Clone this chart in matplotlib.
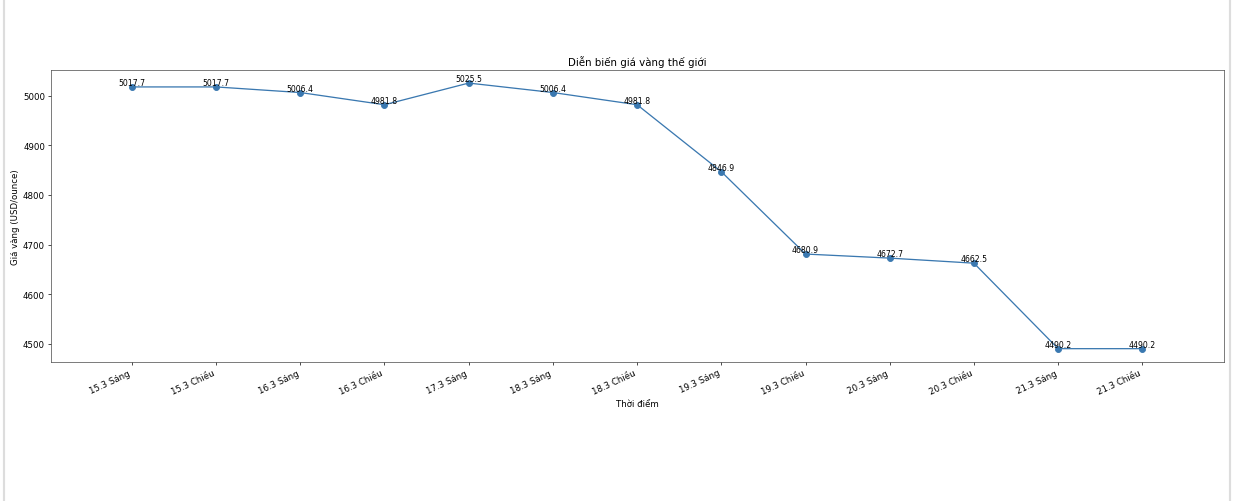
import matplotlib

matplotlib.use("Agg")
import matplotlib.pyplot as plt
from matplotlib.lines import Line2D

# dữ liệu giá vàng thế giới (USD/ounce)
thoi_diem = [
    "15.3 Sáng", "15.3 Chiều", "16.3 Sáng", "16.3 Chiều", "17.3 Sáng",
    "18.3 Sáng", "18.3 Chiều", "19.3 Sáng", "19.3 Chiều", "20.3 Sáng",
    "20.3 Chiều", "21.3 Sáng", "21.3 Chiều",
]
gia_vang = [
    5017.7, 5017.7, 5006.4, 4981.8, 5025.5, 5006.4, 4981.8,
    4846.9, 4680.9, 4672.7, 4662.5, 4490.2, 4490.2,
]

# hình gốc khoảng 20x8 inch, thu nhỏ về 1236x502
fig = plt.figure(figsize=(20, 502 / 61.8), dpi=61.8)
ax = fig.add_axes([0.0413, 0.277, 0.9490, 0.582])

x = list(range(len(thoi_diem)))
ax.plot(x, gia_vang, marker="o", markersize=7, color="#3a78b0")
for xi, yi in zip(x, gia_vang):
    ax.text(xi, yi, f"{yi}", ha="center", va="bottom", fontsize=9)

ax.set_xticks(x)
ax.set_xticklabels(thoi_diem, rotation=25, ha="right")
ax.set_xlim(-0.96, 12.97)
ax.set_title("Diễn biến giá vàng thế giới")
ax.set_xlabel("Thời điểm")
ax.set_ylabel("Giá vàng (USD/ounce)")
for sp in ax.spines.values():
    sp.set_color("#444444")

# khung viền nhạt như ảnh chụp notebook
for xf in (4 / 1236, 1230 / 1236):
    fig.add_artist(Line2D([xf, xf], [0, 1], transform=fig.transFigure,
                          color="#dddddd", lw=2.5))

fig.savefig("out.png", dpi=61.8)
